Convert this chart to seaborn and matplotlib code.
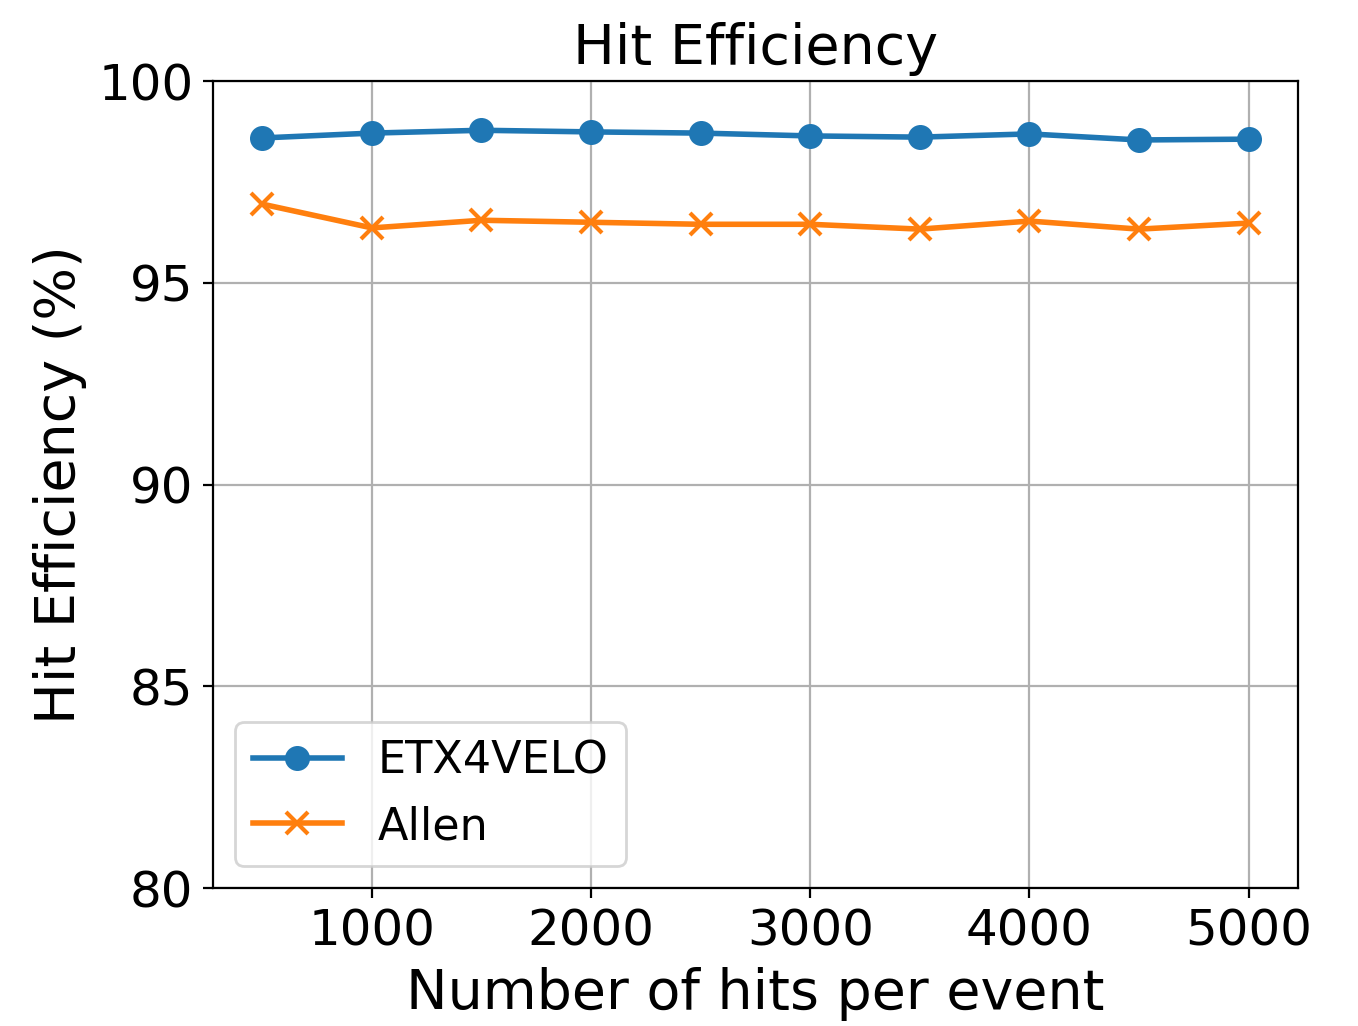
import matplotlib
matplotlib.use("Agg")
import matplotlib.pyplot as plt
import seaborn as sns
import pandas as pd

hits = [500, 1000, 1500, 2000, 2500, 3000, 3500, 4000, 4500, 5000]
etx4velo = [98.59, 98.71, 98.78, 98.74, 98.71, 98.64, 98.61, 98.69, 98.54, 98.56]
allen = [96.95, 96.36, 96.55, 96.50, 96.45, 96.45, 96.33, 96.53, 96.33, 96.48]
series_names = ["ETX4VELO", "Allen"]

df = pd.DataFrame({
    "hits": hits * 2,
    "eff": etx4velo + allen,
    "method": [series_names[0]] * len(hits) + [series_names[1]] * len(hits),
})

fig = plt.figure(figsize=(6.79, 5.13), dpi=200)
ax = fig.add_axes([0.1568, 0.1345, 0.7990, 0.7865])

colors = {"ETX4VELO": "#1f77b4", "Allen": "#ff7f0e"}
for name, mk in [("ETX4VELO", "o"), ("Allen", "x")]:
    sub = df[df["method"] == name]
    sns.lineplot(data=sub, x="hits", y="eff", ax=ax, color=colors[name],
                 marker=mk, markersize=8, linewidth=2, label=name,
                 markeredgecolor=colors[name], markeredgewidth=1.5 if mk == "x" else 1.0)

ax.set_ylim(80, 100)
ax.set_xlim(275, 5225)
ax.set_xticks([1000, 2000, 3000, 4000, 5000])
ax.set_yticks([80, 85, 90, 95, 100])
ax.grid(True, color="#b0b0b0", linewidth=0.8)
ax.tick_params(labelsize=18)
ax.set_xlabel("Number of hits per event", fontsize=20)
ax.set_ylabel("Hit Efficiency (%)", fontsize=20)
ax.set_title("Hit Efficiency", fontsize=20)
ax.legend(loc="lower left", fontsize=16)

fig.savefig("out.png", dpi=200)
